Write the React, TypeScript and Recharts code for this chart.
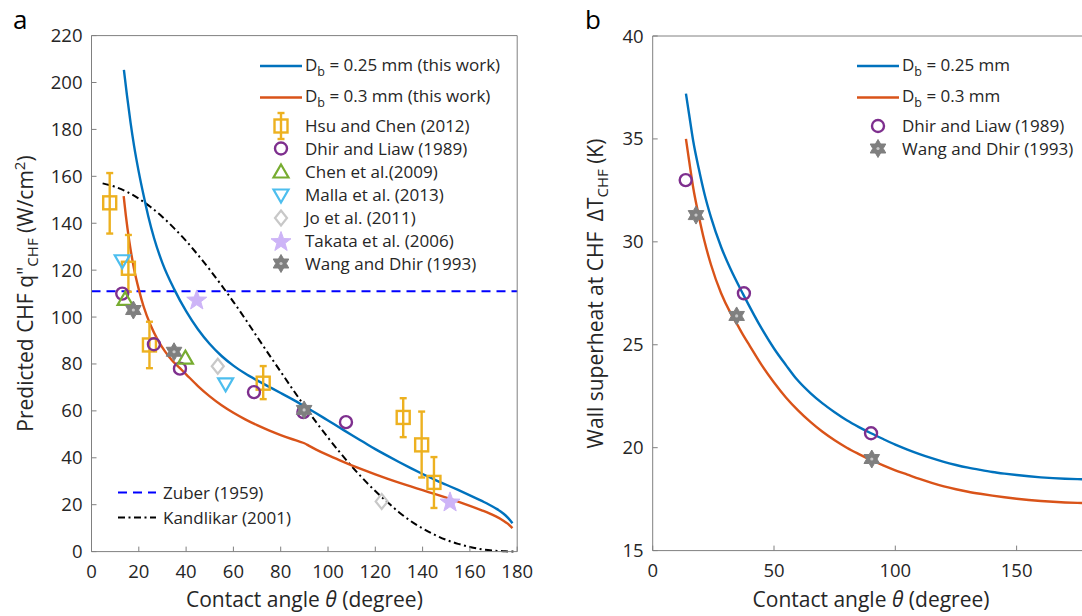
import React from 'react';
import { ComposedChart, Line, Scatter, XAxis, YAxis, ErrorBar } from 'recharts';

const FONT = '"Open Sans", sans-serif';
const TXT = '#262626';
const AX = '#808080';
const C = {
  blue: '#0072BD', orange: '#D95319', hsu: '#EDB120', dhir: '#7E2F8E', chen: '#77AC30',
  malla: '#4DBEEE', jo: '#C8C8C8', takata: '#CDB4F7', wang: '#7F7F7F', zuber: '#0000FF', kand: '#000000',
};

// ---------------- Panel a data ----------------
const xTicksA = [0, 20, 40, 60, 80, 100, 120, 140, 160, 180];
const yTicksA = [0, 20, 40, 60, 80, 100, 120, 140, 160, 180, 200, 220];

const blueA = [[13.7,205.4],[15,194.5],[16.5,183],[18,173],[20,161.8],[22,152],[24,143],[26.5,133.5],[30,123],[35,111.8],[40,102.5],[45,94.8],[50,88.5],[55,83.4],[60,79.3],[65,75.9],[70,73],[75,70.3],[80,67.6],[85,64.9],[90,62],[95,59],[100,55.9],[105,52.8],[110,49.7],[115,46.7],[120,43.7],[125,40.9],[130,38.2],[135,35.6],[140,33.1],[145,30.7],[150,28.5],[155,26.3],[160,24],[165,21.6],[168,20.1],[171,18.4],[173,17.1],[175,15.5],[177,13.4],[178,12.1]];
const orangeA = [[13.6,151.6],[14.5,143.5],[16,132.2],[18,120.5],[20,111.8],[22,104.6],[25,96.5],[28,90.3],[31,85.5],[34,81.6],[37.4,78.2],[40,75.6],[45,70.6],[50,66.2],[55,62.4],[60,59.2],[65,56.4],[70,53.9],[75,51.7],[80,49.7],[85,47.9],[88,46.9],[90,46.2],[92,45.1],[95,43.5],[100,41.1],[105,38.9],[110,36.8],[115,34.8],[120,32.9],[125,31.1],[130,29.4],[135,27.8],[140,26.2],[145,24.6],[150,23],[155,21.3],[160,19.5],[165,17.6],[168,16.4],[171,15],[174,13.3],[176,11.9],[178,10]];
const kandA = [[4.7,157],[10,155.5],[15,153.4],[20,150.5],[25,146.9],[30,142.7],[35,137.8],[40,132.5],[45,126.5],[50,120.2],[55,113.5],[60,106.5],[65,99.2],[70,91.6],[75,84.1],[80,76.7],[85,69.3],[90,62.1],[95,55.2],[100,48.6],[105,42.3],[110,36.4],[115,30.9],[120,25.8],[125,21.2],[130,16.8],[135,13],[140,9.9],[145,7.2],[150,5],[155,3.3],[160,2],[165,1],[170,0.45],[175,0.1],[179,0]];
const zuberA = [[0,111],[180,111]];

// [angle, value, lower error, upper error]
const hsuA = [[7.7,148.7,13.1,12.7],[15.6,120.8,10,14.2],[24.5,88.1,9.9,9.9],[72.6,71.8,6.8,7.3],[131.8,57.2,8.4,8.2],[139.6,45.5,13.9,14.2],[144.8,29.5,10.9,10.8]];
const dhirA = [[13,110],[26.4,88.4],[37.4,78],[68.7,68],[89.6,59.5],[107.6,55.2]];
const chenA = [[14.2,107.5],[39.7,82.5]];
const mallaA = [[13,124],[56.7,71.5]];
const joA = [[53.4,79],[122.7,21.4]];
const takataA = [[44.5,107.5],[151.6,21.4]];
const wangA = [[17.7,103],[34.9,85.2],[89.9,60.4]];

// ---------------- Panel b data ----------------
const xTicksB = [0, 50, 100, 150];
const yTicksB = [15, 20, 25, 30, 35, 40];
const blueB = [[13.7,37.2],[15,36.2],[16.7,34.9],[19,33.55],[21.3,32.35],[24,31.2],[28.2,29.75],[32,28.7],[37.3,27.45],[45,25.77],[50,24.82],[55,24],[59.4,23.32],[65,22.65],[70,22.15],[75,21.72],[80,21.33],[85,21],[90,20.7],[95,20.42],[100,20.15],[105,19.91],[110,19.69],[115,19.49],[120,19.31],[125,19.16],[130,19.03],[135,18.92],[140,18.82],[145,18.74],[150,18.67],[155,18.61],[160,18.56],[165,18.52],[170,18.49],[175,18.47],[180,18.46]];
const orangeB = [[13.7,35],[15,33.95],[16.7,32.63],[19,31.26],[21.3,30.05],[24,28.9],[28.2,27.5],[32,26.56],[35,25.95],[37.3,25.47],[40,24.95],[45,24],[50,23.17],[55,22.43],[60,21.8],[65,21.25],[70,20.77],[75,20.36],[80,20],[85,19.69],[90,19.4],[95,19.14],[100,18.9],[105,18.69],[110,18.48],[115,18.29],[120,18.12],[125,17.98],[130,17.86],[135,17.76],[140,17.67],[145,17.59],[150,17.52],[155,17.46],[160,17.41],[165,17.37],[170,17.34],[175,17.32],[180,17.31]];
const dhirB = [[13.6,33],[37.6,27.5],[90,20.7]];
const wangB = [[17.85,31.3],[34.6,26.4],[90.3,19.45]];

const xy = (a: number[][]) => a.map(([x, y]) => ({ x, y }));
const hsuData = hsuA.map(([x, y, lo, hi]) => ({ x, y, err: [lo, hi] }));

// ---------------- markers ----------------
function starPts(cx: number, cy: number, n: number, R: number, r: number) {
  const p: string[] = [];
  for (let i = 0; i < 2 * n; i++) {
    const a = -Math.PI / 2 + (i * Math.PI) / n;
    const rad = i % 2 === 0 ? R : r;
    p.push(`${(cx + rad * Math.cos(a)).toFixed(2)},${(cy + rad * Math.sin(a)).toFixed(2)}`);
  }
  return p.join(' ');
}

function Marker({ kind, cx, cy }: { kind: string; cx: number; cy: number }) {
  switch (kind) {
    case 'circle':
      return <circle cx={cx} cy={cy} r={6} fill="none" stroke={C.dhir} strokeWidth={2.4} />;
    case 'square':
      return <rect x={cx - 6.5} y={cy - 6.5} width={13} height={13} fill="none" stroke={C.hsu} strokeWidth={2.4} />;
    case 'tri':
      return <polygon points={`${cx},${cy - 7.5} ${cx + 7.5},${cy + 5.5} ${cx - 7.5},${cy + 5.5}`} fill="none" stroke={C.chen} strokeWidth={2.2} />;
    case 'trid':
      return <polygon points={`${cx},${cy + 7.5} ${cx + 7.5},${cy - 5.5} ${cx - 7.5},${cy - 5.5}`} fill="none" stroke={C.malla} strokeWidth={2.2} />;
    case 'diamond':
      return <polygon points={`${cx},${cy - 7.5} ${cx + 6},${cy} ${cx},${cy + 7.5} ${cx - 6},${cy}`} fill="none" stroke={C.jo} strokeWidth={2.2} />;
    case 'pent':
      return <polygon points={starPts(cx, cy + 1, 5, 10.5, 4.3)} fill={C.takata} stroke={C.takata} strokeWidth={1} />;
    case 'hex':
      return (
        <g>
          <polygon points={starPts(cx, cy, 6, 9, 5.2)} fill={C.wang} stroke={C.wang} strokeWidth={1} />
          <circle cx={cx} cy={cy} r={1.6} fill="#c9c9c9" />
        </g>
      );
    default:
      return <g />;
  }
}

const shape = (kind: string) => (p: any) => <Marker kind={kind} cx={p.cx} cy={p.cy} />;

// ---------------- ticks ----------------
const BottomTick = (p: any) => (
  <text x={p.x} y={p.y + 26.5} textAnchor="middle" fontSize={18.5} fontFamily={FONT} fill={TXT}>{p.payload.value}</text>
);
const LeftTick = (p: any) => (
  <text x={p.x - 9} y={p.y + 6.5} textAnchor="end" fontSize={18.5} fontFamily={FONT} fill={TXT}>{p.payload.value}</text>
);
const NoTick = () => <g />;

const axisCommon = {
  tickSize: -5,
  tickMargin: 5,
  interval: 0 as const,
  axisLine: { stroke: AX, strokeWidth: 1 },
  tickLine: { stroke: AX, strokeWidth: 1 },
};

function PanelA() {
  return (
    <div style={{ position: 'absolute', left: 0, top: 0 }}>
      <ComposedChart width={540} height={616} margin={{ top: 34.6, right: 21.8, bottom: 0.4, left: 0 }}>
        <XAxis dataKey="x" type="number" domain={[0, 180]} ticks={xTicksA} height={64} tick={BottomTick} {...axisCommon} />
        <XAxis xAxisId="t" orientation="top" dataKey="x" type="number" domain={[0, 180]} ticks={xTicksA} height={1} tick={NoTick} {...axisCommon} />
        <YAxis dataKey="y" type="number" domain={[0, 220]} ticks={yTicksA} width={91.5} tick={LeftTick} {...axisCommon} />
        <YAxis yAxisId="r" orientation="right" dataKey="y" type="number" domain={[0, 220]} ticks={yTicksA} width={1} tick={NoTick} {...axisCommon} />
        <Line data={xy(zuberA)} dataKey="y" type="linear" stroke={C.zuber} strokeWidth={2} strokeDasharray="9 6" dot={false} activeDot={false} isAnimationActive={false} />
        <Line data={xy(kandA)} dataKey="y" type="monotone" stroke={C.kand} strokeWidth={2} strokeDasharray="7 3.5 2 3.5" dot={false} activeDot={false} isAnimationActive={false} />
        <Line data={xy(blueA)} dataKey="y" type="monotone" stroke={C.blue} strokeWidth={2.4} dot={false} activeDot={false} isAnimationActive={false} />
        <Line data={xy(orangeA)} dataKey="y" type="monotone" stroke={C.orange} strokeWidth={2.4} dot={false} activeDot={false} isAnimationActive={false} />
        <Scatter data={hsuData} dataKey="y" shape={shape('square')} isAnimationActive={false}>
          <ErrorBar dataKey="err" direction="y" width={3.5} stroke={C.hsu} strokeWidth={2.4} />
        </Scatter>
        <Scatter data={xy(dhirA)} dataKey="y" shape={shape('circle')} isAnimationActive={false} />
        <Scatter data={xy(chenA)} dataKey="y" shape={shape('tri')} isAnimationActive={false} />
        <Scatter data={xy(mallaA)} dataKey="y" shape={shape('trid')} isAnimationActive={false} />
        <Scatter data={xy(joA)} dataKey="y" shape={shape('diamond')} isAnimationActive={false} />
        <Scatter data={xy(takataA)} dataKey="y" shape={shape('pent')} isAnimationActive={false} />
        <Scatter data={xy(wangA)} dataKey="y" shape={shape('hex')} isAnimationActive={false} />
      </ComposedChart>
    </div>
  );
}

function PanelB() {
  return (
    <div style={{ position: 'absolute', left: 540, top: 0 }}>
      <ComposedChart width={560} height={616} margin={{ top: 35, right: 9.6, bottom: 1.4, left: 0 }}>
        <XAxis dataKey="x" type="number" domain={[0, 180]} ticks={xTicksB} height={64} tick={BottomTick} {...axisCommon} />
        <XAxis xAxisId="t" orientation="top" dataKey="x" type="number" domain={[0, 180]} ticks={xTicksB} height={1} tick={NoTick} {...axisCommon} />
        <YAxis dataKey="y" type="number" domain={[15, 40]} ticks={yTicksB} width={112.7} tick={LeftTick} {...axisCommon} />
        <YAxis yAxisId="r" orientation="right" dataKey="y" type="number" domain={[15, 40]} ticks={yTicksB} width={1} tick={NoTick} {...axisCommon} />
        <Line data={xy(blueB)} dataKey="y" type="monotone" stroke={C.blue} strokeWidth={2.4} dot={false} activeDot={false} isAnimationActive={false} />
        <Line data={xy(orangeB)} dataKey="y" type="monotone" stroke={C.orange} strokeWidth={2.4} dot={false} activeDot={false} isAnimationActive={false} />
        <Scatter data={xy(dhirB)} dataKey="y" shape={shape('circle')} isAnimationActive={false} />
        <Scatter data={xy(wangB)} dataKey="y" shape={shape('hex')} isAnimationActive={false} />
      </ComposedChart>
    </div>
  );
}

const T = { fontFamily: FONT, fill: TXT } as const;

function LegendText({ x, y, children }: { x: number; y: number; children: React.ReactNode }) {
  return <text x={x} y={y} fontSize={17} {...T}>{children}</text>;
}

function DbText({ x, y, main }: { x: number; y: number; main: string }) {
  return (
    <text x={x} y={y} fontSize={17} {...T}>
      D<tspan fontSize={12.5} dy={5}>b</tspan><tspan dy={-5}>{main}</tspan>
    </text>
  );
}

function Overlay() {
  const la = { x1: 260, x2: 302, tx: 305, mx: 281 };
  const lb = { x1: 857, x2: 899, tx: 902, mx: 878 };
  const rowsA = [
    { kind: 'square', label: 'Hsu and Chen (2012)', y: 126 },
    { kind: 'circle', label: 'Dhir and Liaw (1989)', y: 148.5 },
    { kind: 'tri', label: 'Chen et al.(2009)', y: 172 },
    { kind: 'trid', label: 'Malla et al. (2013)', y: 195 },
    { kind: 'diamond', label: 'Jo et al. (2011)', y: 218 },
    { kind: 'pent', label: 'Takata et al. (2006)', y: 241 },
    { kind: 'hex', label: 'Wang and Dhir (1993)', y: 263.5 },
  ];
  const rowsB = [
    { kind: 'circle', label: 'Dhir and Liaw (1989)', y: 126 },
    { kind: 'hex', label: 'Wang and Dhir (1993)', y: 148.5 },
  ];
  return (
    <svg width={1082} height={616} style={{ position: 'absolute', left: 0, top: 0, pointerEvents: 'none' }}>
      {/* panel letters */}
      <text x={13} y={29} fontSize={26} fontFamily={FONT} fill="#000">a</text>
      <text x={585} y={29} fontSize={26} fontFamily={FONT} fill="#000">b</text>

      {/* axis labels panel a */}
      <text x={304.4} y={607} textAnchor="middle" fontSize={21} {...T}>
        Contact angle <tspan fontStyle="italic">θ</tspan> (degree)
      </text>
      <text transform="translate(32.5,293.5) rotate(-90)" textAnchor="middle" fontSize={21} {...T}>
        Predicted CHF q"<tspan fontSize={15} dy={5}>CHF</tspan><tspan dy={-5}> (W/cm</tspan><tspan fontSize={15} dy={-8}>2</tspan><tspan dy={8}>)</tspan>
      </text>

      {/* axis labels panel b */}
      <text x={871} y={607} textAnchor="middle" fontSize={21} {...T}>
        Contact angle <tspan fontStyle="italic">θ</tspan> (degree)
      </text>
      <text transform="translate(603,293.5) rotate(-90)" textAnchor="middle" fontSize={21} {...T}>
        Wall superheat at CHF{'\u2002'}ΔT<tspan fontSize={15} dy={5}>CHF</tspan><tspan dy={-5}> (K)</tspan>
      </text>

      {/* legend panel a */}
      <line x1={la.x1} x2={la.x2} y1={66} y2={66} stroke={C.blue} strokeWidth={2.4} />
      <DbText x={la.tx} y={70.5} main=" = 0.25 mm (this work)" />
      <line x1={la.x1} x2={la.x2} y1={97.5} y2={97.5} stroke={C.orange} strokeWidth={2.4} />
      <DbText x={la.tx} y={102} main=" = 0.3 mm (this work)" />
      <line x1={la.mx} x2={la.mx} y1={113} y2={139} stroke={C.hsu} strokeWidth={2.4} />
      <line x1={la.mx - 3.5} x2={la.mx + 3.5} y1={113} y2={113} stroke={C.hsu} strokeWidth={2.4} />
      <line x1={la.mx - 3.5} x2={la.mx + 3.5} y1={139} y2={139} stroke={C.hsu} strokeWidth={2.4} />
      {rowsA.map((r) => (
        <g key={r.label}>
          <Marker kind={r.kind} cx={la.mx} cy={r.y} />
          <LegendText x={la.tx} y={r.y + 6}>{r.label}</LegendText>
        </g>
      ))}

      {/* lower-left legend panel a */}
      <line x1={118} x2={156} y1={492.5} y2={492.5} stroke={C.zuber} strokeWidth={2} strokeDasharray="9 6" />
      <LegendText x={163} y={498.5}>Zuber (1959)</LegendText>
      <line x1={118} x2={156} y1={517.5} y2={517.5} stroke={C.kand} strokeWidth={2} strokeDasharray="7 3.5 2 3.5" />
      <LegendText x={163} y={523.5}>Kandlikar (2001)</LegendText>

      {/* legend panel b */}
      <line x1={lb.x1} x2={lb.x2} y1={66} y2={66} stroke={C.blue} strokeWidth={2.4} />
      <DbText x={lb.tx} y={70.5} main=" = 0.25 mm" />
      <line x1={lb.x1} x2={lb.x2} y1={97.5} y2={97.5} stroke={C.orange} strokeWidth={2.4} />
      <DbText x={lb.tx} y={102} main=" = 0.3 mm" />
      {rowsB.map((r) => (
        <g key={r.label}>
          <Marker kind={r.kind} cx={lb.mx} cy={r.y} />
          <LegendText x={lb.tx} y={r.y + 6}>{r.label}</LegendText>
        </g>
      ))}
    </svg>
  );
}

export default function App() {
  return (
    <div style={{ position: 'absolute', left: 0, top: 0, width: 1082, height: 616, overflow: 'hidden', background: '#fff' }}>
      <PanelA />
      <PanelB />
      <Overlay />
    </div>
  );
}
